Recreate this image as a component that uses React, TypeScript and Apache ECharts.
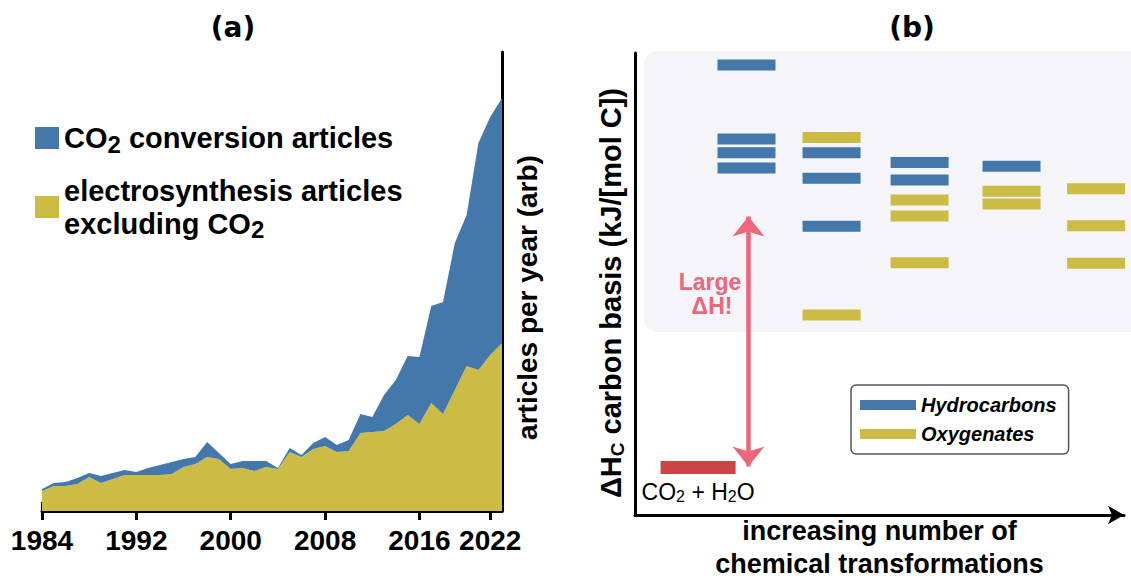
import React, { useEffect, useRef } from 'react';
import * as echarts from 'echarts';

const FONT = '"Liberation Sans", Arial, Helvetica, sans-serif';

// ---- panel (a) data ----
const years = [
  '1984', '1985', '1986', '1987', '1988', '1989', '1990', '1991', '1992', '1993',
  '1994', '1995', '1996', '1997', '1998', '1999', '2000', '2001', '2002', '2003',
  '2004', '2005', '2006', '2007', '2008', '2009', '2010', '2011', '2012', '2013',
  '2014', '2015', '2016', '2017', '2018', '2019', '2020', '2021', '2022', '2023',
];
const shownYears = ['1984', '1992', '2000', '2008', '2016', '2022'];
const electroArticles = [
  20, 25, 25, 27, 34, 28, 32, 36, 36, 36,
  36, 37, 44, 47, 54, 52, 42, 43, 40, 44,
  42, 59, 54, 62, 65, 59, 60, 78, 79, 80,
  87, 96, 87, 108, 97, 121, 145, 141, 156, 168,
];
const co2Articles = [
  2, 3, 4, 6, 4, 7, 6, 5, 3, 7,
  10, 12, 8, 7, 15, 6, 5, 7, 10, 6,
  1, 4, 2, 6, 9, 7, 11, 19, 15, 36,
  44, 59, 67, 97, 112, 147, 151, 227, 238, 245,
];
const CO2_NAME = 'CO2 conversion articles';
const ELECTRO_NAME = 'electrosynthesis articles excluding CO2';

// ---- panel (b) data: [position along transformations, ΔH level] ----
const hydrocarbons = [
  [22.8, 97.4], [22.8, 81.4], [22.8, 78.4], [22.8, 75.1],
  [40.2, 78.4], [40.2, 72.9], [40.2, 62.5],
  [58.2, 76.3], [58.2, 72.5],
  [77.0, 75.5],
];
const oxygenates = [
  [40.2, 81.7], [40.2, 43.3],
  [58.2, 68.2], [58.2, 64.7], [58.2, 54.6],
  [77.0, 70.1], [77.0, 67.3],
  [94.3, 70.6], [94.3, 62.6], [94.3, 54.5],
];
const co2Water = [[12.9, 10.3]];
const deltaHArrow = [[23.2, 64.6], [23.2, 10.5]];

const BLUE = '#4477AA';
const YELLOW = '#CCBB44';
const PINK = '#EE6677';
const RED = '#CC4446';

const legendRich = {
  n: { fontSize: 29, fontWeight: 'bold', fontFamily: FONT, color: '#000', lineHeight: 33 },
  s: { fontSize: 24, fontWeight: 'bold', fontFamily: FONT, color: '#000', lineHeight: 24, padding: [12, 0, 0, 0] },
};

export default function App() {
  const ref = useRef<HTMLDivElement>(null);
  useEffect(() => {
    const chart = echarts.init(ref.current!, null, { renderer: 'svg' });
    const showYear = (_i: number, v: string) => shownYears.includes(v);
    const option: any = {
      animation: false,
      backgroundColor: '#fff',
      grid: [
        { left: 42, top: 52, width: 460, height: 459, outerBoundsMode: 'none', containLabel: false },
        { left: 635, top: 53, width: 489, height: 462, outerBoundsMode: 'none', containLabel: false },
      ],
      graphic: [
        {
          type: 'rect', z: -10, silent: true,
          shape: { x: 644, y: 51, width: 520, height: 281, r: 14 },
          style: { fill: '#f4f4f9' },
        },
        {
          type: 'text', x: 233, y: 27, silent: true,
          style: { text: '(a)', align: 'center', verticalAlign: 'middle', fontSize: 28, fontWeight: 'bold', fontFamily: '"DejaVu Sans", sans-serif', fill: '#000' },
        },
        {
          type: 'text', x: 912, y: 27, silent: true,
          style: { text: '(b)', align: 'center', verticalAlign: 'middle', fontSize: 28, fontWeight: 'bold', fontFamily: '"DejaVu Sans", sans-serif', fill: '#000' },
        },
        {
          type: 'text', x: 710, y: 282, silent: true,
          style: { text: 'Large', align: 'center', verticalAlign: 'middle', fontSize: 23, fontWeight: 'bold', fontFamily: FONT, fill: PINK },
        },
        {
          type: 'text', x: 712, y: 306, silent: true,
          style: { text: 'ΔH!', align: 'center', verticalAlign: 'middle', fontSize: 23, fontWeight: 'bold', fontFamily: FONT, fill: PINK },
        },
      ],
      legend: [
        {
          data: [CO2_NAME, ELECTRO_NAME],
          orient: 'vertical', left: 30, top: 115, icon: 'rect',
          itemWidth: 24, itemHeight: 22, itemGap: 20, selectedMode: false,
          textStyle: { fontSize: 29, fontWeight: 'bold', fontFamily: FONT, color: '#000', rich: legendRich },
          formatter: (name: string) =>
            name === CO2_NAME
              ? '{n|CO}{s|2}{n| conversion articles}'
              : '{n|electrosynthesis articles}\n{n|excluding CO}{s|2}',
        },
        {
          data: ['Hydrocarbons', 'Oxygenates'],
          orient: 'vertical', left: 851, top: 385, icon: 'rect',
          itemWidth: 56, itemHeight: 10, itemGap: 9, selectedMode: false,
          padding: [10, 12, 10, 9],
          borderColor: '#555', borderWidth: 1.5, borderRadius: 5,
          textStyle: { fontSize: 20, lineHeight: 20, fontWeight: 'bold', fontStyle: 'italic', fontFamily: FONT, color: '#000' },
        },
      ],
      xAxis: [
        {
          type: 'category', gridIndex: 0, data: years, boundaryGap: false, position: 'bottom',
          axisLine: { show: true, lineStyle: { color: '#000', width: 3 } },
          axisTick: { show: true, length: 9, interval: showYear, lineStyle: { color: '#000', width: 3 } },
          axisLabel: { interval: showYear, color: '#000', fontSize: 28, fontWeight: 'bold', fontFamily: FONT, margin: 15 },
          splitLine: { show: false },
        },
        {
          type: 'category', gridIndex: 0, data: years, boundaryGap: false, position: 'bottom', offset: 0,
          axisLine: { show: false },
          axisTick: { show: true, inside: true, length: 9, interval: showYear, lineStyle: { color: '#000', width: 3 } },
          axisLabel: { show: false },
          splitLine: { show: false },
        },
        {
          type: 'value', gridIndex: 1, min: 0, max: 100,
          axisLine: { show: true, symbol: ['none', 'arrow'], symbolSize: [14, 16], lineStyle: { color: '#000', width: 3 } },
          axisTick: { show: false }, axisLabel: { show: false }, splitLine: { show: false },
          name: 'increasing number of\nchemical transformations',
          nameLocation: 'middle', nameGap: -1,
          nameTextStyle: { fontSize: 27, lineHeight: 33, fontWeight: 'bold', fontFamily: FONT, color: '#000' },
        },
      ],
      yAxis: [
        {
          type: 'value', gridIndex: 0, position: 'right', min: 0, max: 459,
          axisLine: { show: true, lineStyle: { color: '#000', width: 3 } },
          axisTick: { show: false }, axisLabel: { show: false }, splitLine: { show: false },
          name: 'articles per year (arb)', nameLocation: 'middle', nameRotate: 90, nameGap: 11,
          nameTextStyle: { fontSize: 28, fontWeight: 'bold', fontFamily: FONT, color: '#000', padding: [0, 32, 0, 0] },
        },
        {
          type: 'value', gridIndex: 1, min: 0, max: 100,
          axisLine: { show: true, lineStyle: { color: '#000', width: 3 } },
          axisTick: { show: false }, axisLabel: { show: false }, splitLine: { show: false },
          name: '{n|ΔH}{s|C}{n| carbon basis (kJ/[mol C])}', nameLocation: 'middle', nameRotate: 90, nameGap: 9,
          nameTextStyle: {
            fontSize: 29, fontWeight: 'bold', fontFamily: FONT, color: '#000', padding: [0, 18, 0, 0],
            rich: {
              n: { fontSize: 29, fontWeight: 'bold', fontFamily: FONT, color: '#000', lineHeight: 30 },
              s: { fontSize: 19, fontWeight: 'bold', fontFamily: FONT, color: '#000', lineHeight: 19, padding: [12, 0, 0, 0] },
            },
          },
        },
      ],
      series: [
        {
          name: ELECTRO_NAME, type: 'line', xAxisIndex: 0, yAxisIndex: 0, stack: 'articles',
          data: electroArticles, symbol: 'none', showSymbol: false,
          lineStyle: { width: 0 }, areaStyle: { color: YELLOW, opacity: 1 }, itemStyle: { color: YELLOW },
          emphasis: { disabled: true },
        },
        {
          name: CO2_NAME, type: 'line', xAxisIndex: 0, yAxisIndex: 0, stack: 'articles',
          data: co2Articles, symbol: 'none', showSymbol: false,
          lineStyle: { width: 0 }, areaStyle: { color: BLUE, opacity: 1 }, itemStyle: { color: BLUE },
          emphasis: { disabled: true },
        },
        {
          name: 'Hydrocarbons', type: 'scatter', xAxisIndex: 2, yAxisIndex: 1,
          data: hydrocarbons, symbol: 'rect', symbolSize: [58, 11], itemStyle: { color: BLUE, opacity: 1 },
          emphasis: { disabled: true },
        },
        {
          name: 'Oxygenates', type: 'scatter', xAxisIndex: 2, yAxisIndex: 1,
          data: oxygenates, symbol: 'rect', symbolSize: [58, 11], itemStyle: { color: YELLOW, opacity: 1 },
          emphasis: { disabled: true },
        },
        {
          name: 'CO2 + H2O', type: 'scatter', xAxisIndex: 2, yAxisIndex: 1,
          data: co2Water, symbol: 'rect', symbolSize: [75, 13], itemStyle: { color: RED, opacity: 1 },
          emphasis: { disabled: true },
          label: {
            show: true, position: 'bottom', distance: 5,
            formatter: '{n|CO}{s|2}{n| + H}{s|2}{n|O}',
            rich: {
              n: { fontSize: 23, fontFamily: FONT, color: '#000', lineHeight: 26 },
              s: { fontSize: 16, fontFamily: FONT, color: '#000', lineHeight: 16, padding: [10, 0, 0, 0] },
            },
          },
          markLine: {
            silent: true, symbol: ['arrow', 'arrow'], symbolSize: [24, 20],
            lineStyle: { color: PINK, width: 4.5, type: 'solid' },
            label: { show: false },
            emphasis: { disabled: true },
            data: [[{ coord: deltaHArrow[0] }, { coord: deltaHArrow[1] }]],
          },
        },
      ],
    };
    chart.setOption(option);
    return () => chart.dispose();
  }, []);
  return (
    <div
      ref={ref}
      style={{ position: 'absolute', left: 0, top: 0, width: 1131, height: 581, background: '#fff' }}
    />
  );
}
